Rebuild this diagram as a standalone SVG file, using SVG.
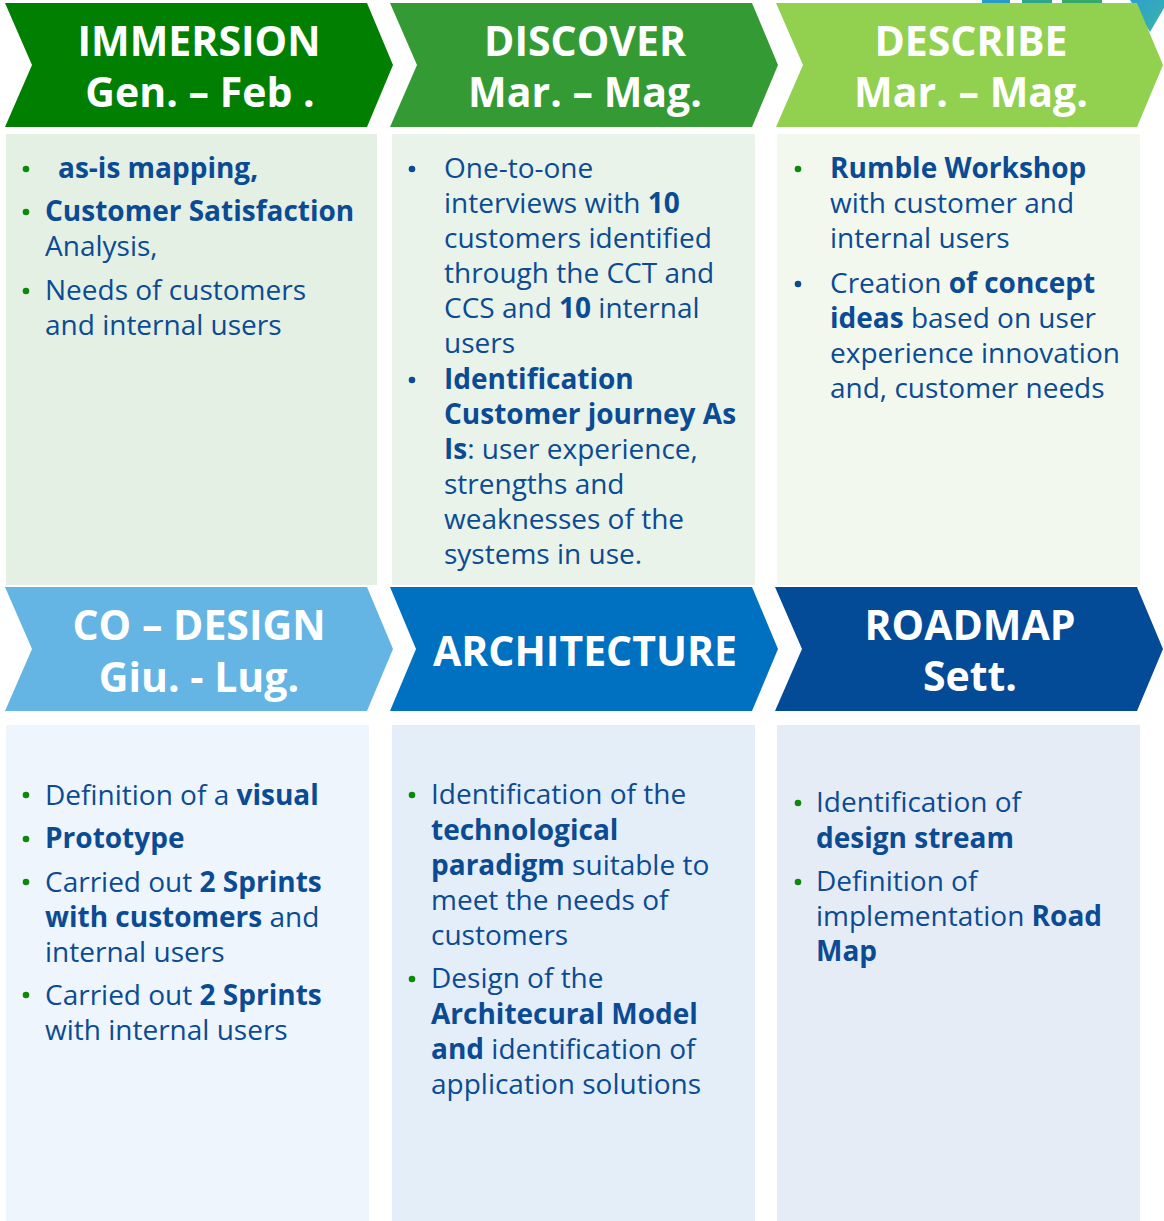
<svg xmlns="http://www.w3.org/2000/svg" width="1164" height="1221" viewBox="0 0 1164 1221">
<defs>
<style>
.hd{font-family:"Open Sans","Noto Sans",sans-serif;font-weight:700;font-size:41px;fill:#ffffff;text-anchor:middle}
.tx{font-family:"Open Sans","Noto Sans",sans-serif;font-size:28px;fill:#0b4b94}
.b{font-weight:700}
.bg{fill:#0a8a0a}
.bb{fill:#0b4b94}
</style>
<linearGradient id="teal" x1="0" y1="0" x2="1" y2="1">
<stop offset="0" stop-color="#2f9fd0"/>
<stop offset="1" stop-color="#3ab3a8"/>
</linearGradient>
</defs>
<rect width="1164" height="1221" fill="#ffffff"/>
<g id="corner-deco">
<rect x="982" y="0" width="28" height="4" fill="#2a9ac8"/>
<rect x="1022" y="0" width="30" height="4" fill="#2fa58a"/>
<rect x="1062" y="0" width="40" height="4" fill="#38a868"/>
<polygon points="1130,0 1164,0 1164,8 1150,32" fill="url(#teal)"/>
</g>
<g id="immersion">
<polygon points="5,3 367,3 393,65 367,127 5,127 32,65" fill="#007f00"/>
<text class="hd" x="199" y="56">IMMERSION</text>
<text class="hd" x="200" y="107">Gen. – Feb .</text>
</g>
<g id="discover">
<polygon points="390,3 752,3 778,65 752,127 390,127 417,65" fill="#349a34"/>
<text class="hd" x="585" y="56">DISCOVER</text>
<text class="hd" x="585" y="107">Mar. – Mag.</text>
</g>
<g id="describe">
<polygon points="776,3 1137,3 1163,65 1137,127 776,127 803,65" fill="#92d050"/>
<text class="hd" x="971" y="56">DESCRIBE</text>
<text class="hd" x="971" y="107">Mar. – Mag.</text>
</g>
<g id="immersion-box">
<rect x="6" y="134" width="371" height="451" fill="#e4f0e4"/>
<circle class="bg" cx="26" cy="169" r="3.3"/>
<text class="tx" x="58" y="178"><tspan class="b">as-is mapping,</tspan></text>
<circle class="bg" cx="26" cy="212" r="3.3"/>
<text class="tx" x="45" y="221"><tspan class="b">Customer Satisfaction</tspan></text>
<text class="tx" x="45" y="256">Analysis,</text>
<circle class="bg" cx="26" cy="291" r="3.3"/>
<text class="tx" x="45" y="300">Needs of customers</text>
<text class="tx" x="45" y="335">and internal users</text>
</g>
<g id="discover-box">
<rect x="392" y="134" width="363" height="451" fill="#e9f3e9"/>
<circle class="bb" cx="412" cy="169" r="3.3"/>
<text class="tx" x="444" y="178">One-to-one</text>
<text class="tx" x="444" y="213">interviews with <tspan class="b">10</tspan></text>
<text class="tx" x="444" y="248">customers identified</text>
<text class="tx" x="444" y="283">through the CCT and</text>
<text class="tx" x="444" y="318">CCS and <tspan class="b">10</tspan> internal</text>
<text class="tx" x="444" y="353">users</text>
<circle class="bb" cx="412" cy="380" r="3.3"/>
<text class="tx" x="444" y="389"><tspan class="b">Identification</tspan></text>
<text class="tx" x="444" y="424"><tspan class="b">Customer journey As</tspan></text>
<text class="tx" x="444" y="459"><tspan class="b">Is</tspan>: user experience,</text>
<text class="tx" x="444" y="494">strengths and</text>
<text class="tx" x="444" y="529">weaknesses of the</text>
<text class="tx" x="444" y="564">systems in use.</text>
</g>
<g id="describe-box">
<rect x="777" y="134" width="363" height="451" fill="#f2f8ee"/>
<circle class="bg" cx="798" cy="169" r="3.3"/>
<text class="tx" x="830" y="178"><tspan class="b">Rumble Workshop</tspan></text>
<text class="tx" x="830" y="213">with customer and</text>
<text class="tx" x="830" y="248">internal users</text>
<circle class="bb" cx="798" cy="284" r="3.3"/>
<text class="tx" x="830" y="293">Creation <tspan class="b">of concept</tspan></text>
<text class="tx" x="830" y="328"><tspan class="b">ideas</tspan> based on user</text>
<text class="tx" x="830" y="363">experience innovation</text>
<text class="tx" x="830" y="398">and, customer needs</text>
</g>
<g id="co-design">
<polygon points="5,587 367,587 393,649 367,711 5,711 32,649" fill="#64b5e3"/>
<text class="hd" x="199" y="640">CO – DESIGN</text>
<text class="hd" x="199" y="692">Giu. - Lug.</text>
</g>
<g id="architecture">
<polygon points="390,587 752,587 778,649 752,711 390,711 416,649" fill="#0070c0"/>
<text class="hd" x="585" y="666">ARCHITECTURE</text>
</g>
<g id="roadmap">
<polygon points="775,587 1137,587 1163,649 1137,711 775,711 802,649" fill="#034b97"/>
<text class="hd" x="970" y="640">ROADMAP</text>
<text class="hd" x="970" y="691">Sett.</text>
</g>
<g id="co-design-box">
<rect x="6" y="725" width="363" height="496" fill="#eef5fc"/>
<circle class="bg" cx="26" cy="795" r="3.3"/>
<text class="tx" x="45" y="805">Definition of a <tspan class="b">visual</tspan></text>
<circle class="bg" cx="26" cy="839" r="3.3"/>
<text class="tx" x="45" y="848"><tspan class="b">Prototype</tspan></text>
<circle class="bg" cx="26" cy="882" r="3.3"/>
<text class="tx" x="45" y="892">Carried out  <tspan class="b">2 Sprints</tspan></text>
<text class="tx" x="45" y="927"><tspan class="b">with customers</tspan> and</text>
<text class="tx" x="45" y="962">internal users</text>
<circle class="bg" cx="26" cy="995" r="3.3"/>
<text class="tx" x="45" y="1005">Carried out <tspan class="b">2 Sprints</tspan></text>
<text class="tx" x="45" y="1040">with internal users</text>
</g>
<g id="architecture-box">
<rect x="392" y="725" width="363" height="496" fill="#e4eef8"/>
<circle class="bg" cx="412" cy="795" r="3.3"/>
<text class="tx" x="431" y="804">Identification of the</text>
<text class="tx" x="431" y="840"><tspan class="b">technological</tspan></text>
<text class="tx" x="431" y="875"><tspan class="b">paradigm</tspan> suitable to</text>
<text class="tx" x="431" y="910">meet the needs of</text>
<text class="tx" x="431" y="945">customers</text>
<circle class="bg" cx="412" cy="979" r="3.3"/>
<text class="tx" x="431" y="988">Design of the</text>
<text class="tx" x="431" y="1024"><tspan class="b">Architecural Model</tspan></text>
<text class="tx" x="431" y="1059"><tspan class="b">and</tspan> identification of</text>
<text class="tx" x="431" y="1094">application solutions</text>
</g>
<g id="roadmap-box">
<rect x="777" y="725" width="363" height="496" fill="#e6ecf5"/>
<circle class="bg" cx="798" cy="803" r="3.3"/>
<text class="tx" x="816" y="812">Identification of</text>
<text class="tx" x="816" y="848"><tspan class="b">design stream</tspan></text>
<circle class="bg" cx="798" cy="882" r="3.3"/>
<text class="tx" x="816" y="891">Definition of</text>
<text class="tx" x="816" y="926">implementation <tspan class="b">Road</tspan></text>
<text class="tx" x="816" y="961"><tspan class="b">Map</tspan></text>
</g>
<g id="connectors"></g>
</svg>
